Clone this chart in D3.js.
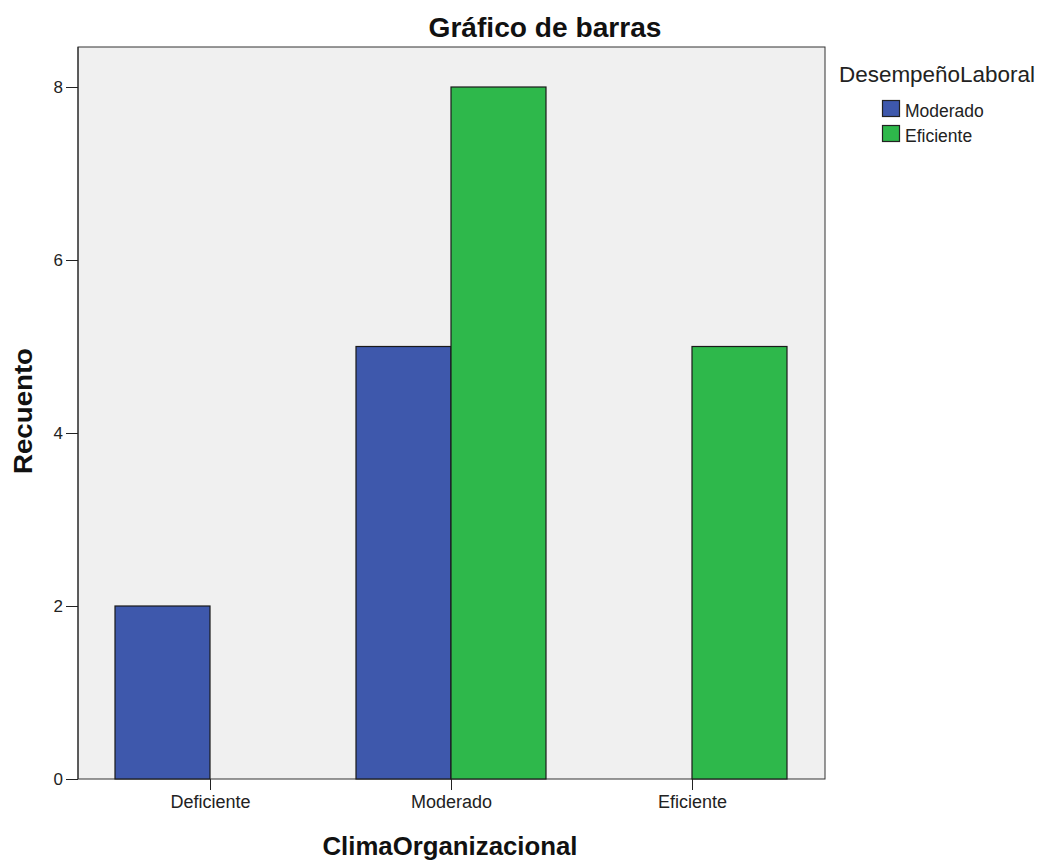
<!DOCTYPE html>
<html><head><meta charset="utf-8">
<script src="https://cdn.jsdelivr.net/npm/d3@7"></script>
<style>body{margin:0;background:#fff;} text{font-family:Arial,"Liberation Sans",sans-serif;}</style>
</head><body>
<svg id="c" width="1039" height="861"></svg>
<script>
const categories = ["Deficiente","Moderado","Eficiente"];
const seriesNames = ["Moderado","Eficiente"];
const moderado = [2,5,null];
const eficiente = [null,8,5];
const yTicks = [0,2,4,6,8];
const colors = ["#3e58ac","#2eb84b"];

const svg = d3.select("#c");
const L=78,R=825,T=47,B=779;
const y = d3.scaleLinear().domain([0,8]).range([B,87]);
const x = d3.scalePoint().domain(categories).range([210,692]);
const bw = 95;

svg.append("rect").attr("x",L).attr("y",T).attr("width",R-L).attr("height",B-T)
  .attr("fill","#f0f0f0").attr("stroke","#333").attr("stroke-width",1);

const series=[moderado,eficiente];
series.forEach((vals,si)=>{
  categories.forEach((c,i)=>{
    const v=vals[i]; if(v==null) return;
    const x0 = si===0 ? x(c)-bw : x(c);
    svg.append("rect").attr("x",x0).attr("y",y(v)).attr("width",bw).attr("height",y(0)-y(v))
      .attr("fill",colors[si]).attr("stroke","#1a1a1a").attr("stroke-width",1.2);
  });
});

const ya = svg.append("g").attr("transform",`translate(${L},0)`)
  .call(d3.axisLeft(y).tickValues(yTicks).tickSize(12).tickPadding(3));
ya.select(".domain").attr("stroke","#222").attr("d",`M0,${T}V${B}`);
ya.selectAll("line").attr("stroke","#222");
ya.selectAll("text").attr("font-size",17).attr("fill","#222");

const xa = svg.append("g").attr("transform",`translate(0,${B})`)
  .call(d3.axisBottom(x).tickSize(11).tickPadding(5));
xa.select(".domain").remove();
xa.selectAll("line").attr("stroke","#222");
xa.selectAll("text").attr("font-size",18).attr("fill","#222");

svg.append("text").attr("x",545).attr("y",37).attr("text-anchor","middle")
  .attr("font-size",27).attr("font-weight","bold").attr("fill","#111")
  .attr("textLength",233).attr("lengthAdjust","spacingAndGlyphs").text("Gráfico de barras");
svg.append("text").attr("transform","translate(32,411) rotate(-90)").attr("text-anchor","middle")
  .attr("font-size",25).attr("font-weight","bold").attr("fill","#111")
  .attr("textLength",126).attr("lengthAdjust","spacingAndGlyphs").text("Recuento");
svg.append("text").attr("x",450).attr("y",855).attr("text-anchor","middle")
  .attr("font-size",25).attr("font-weight","bold").attr("fill","#111")
  .attr("textLength",255).attr("lengthAdjust","spacingAndGlyphs").text("ClimaOrganizacional");

svg.append("text").attr("x",839).attr("y",82).attr("font-size",22).attr("fill","#222")
  .attr("textLength",196).attr("lengthAdjust","spacingAndGlyphs").text("DesempeñoLaboral");
seriesNames.forEach((n,i)=>{
  const yy=100+i*25;
  svg.append("rect").attr("x",882.5).attr("y",yy+0.5).attr("width",17).attr("height",16)
    .attr("fill",colors[i]).attr("stroke","#222").attr("stroke-width",1.2);
  svg.append("text").attr("x",905).attr("y",yy+17).attr("font-size",17.5).attr("fill","#222").text(n);
});
</script>
</body></html>
